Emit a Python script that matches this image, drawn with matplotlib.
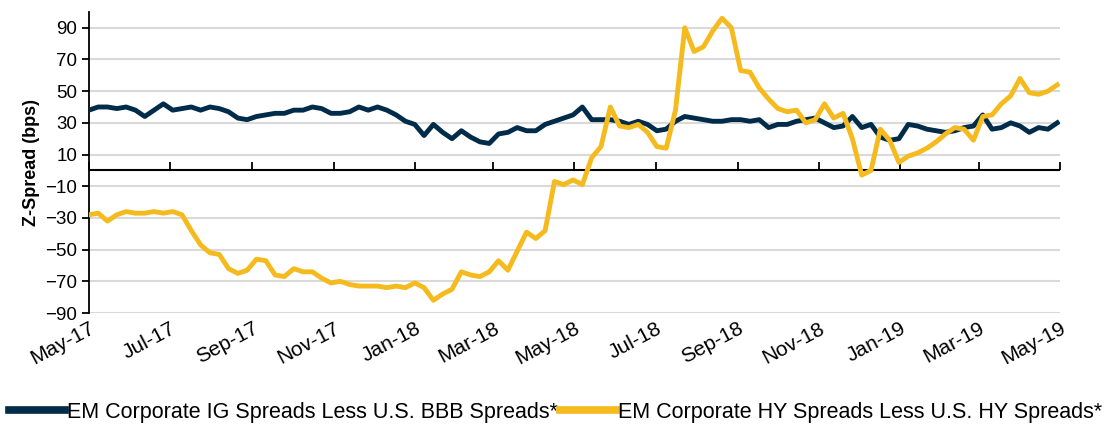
import pandas as pd
import matplotlib.pyplot as plt
import matplotlib as mpl
import matplotlib.dates as mdates

mpl.rcParams['font.family'] = ['Liberation Sans', 'DejaVu Sans']
mpl.rcParams['font.size'] = 12

# weekly readings, May-17 to May-19
start_date = '2017-05-01'
ig_spread = [38, 40, 40, 39, 40, 38, 34, 38, 42, 38,
             39, 40, 38, 40, 39, 37, 33, 32, 34, 35,
             36, 36, 38, 38, 40, 39, 36, 36, 37, 40,
             38, 40, 38, 35, 31, 29, 22, 29, 24, 20,
             25, 21, 18, 17, 23, 24, 27, 25, 25, 29,
             31, 33, 35, 40, 32, 32, 32, 31, 29, 31,
             29, 25, 26, 31, 34, 33, 32, 31, 31, 32,
             32, 31, 32, 27, 29, 29, 31, 32, 33, 30,
             27, 28, 34, 27, 29, 21, 19, 20, 29, 28,
             26, 25, 24, 25, 27, 28, 35, 26, 27, 30,
             28, 24, 27, 26, 30]
hy_spread = [-28, -27, -32, -28, -26, -27, -27, -26, -27, -26,
             -28, -38, -47, -52, -53, -62, -65, -63, -56, -57,
             -66, -67, -62, -64, -64, -68, -71, -70, -72, -73,
             -73, -73, -74, -73, -74, -71, -74, -82, -78, -75,
             -64, -66, -67, -64, -57, -63, -51, -39, -43, -38,
             -7, -9, -6, -9, 8, 15, 40, 28, 27, 29,
             24, 15, 14, 38, 90, 75, 78, 88, 96, 90,
             63, 62, 52, 45, 39, 37, 38, 30, 32, 42,
             33, 36, 20, -3, 0, 26, 19, 5, 9, 11,
             14, 18, 23, 27, 26, 19, 34, 35, 42, 47,
             58, 49, 48, 50, 54]
labels = ['EM Corporate IG Spreads Less U.S. BBB Spreads*',
          'EM Corporate HY Spreads Less U.S. HY Spreads*']
colors = ['#002B49', '#F4BA1E']

dates = pd.date_range(start_date, periods=len(ig_spread), freq='7D')

fig = plt.figure(figsize=(11.11, 4.25), dpi=100)
ax = fig.add_axes([0.080, 0.2635, 0.874, 0.7085])

ax.plot(dates, ig_spread, color=colors[0], lw=3.5, label=labels[0], zorder=3)
ax.plot(dates, hy_spread, color=colors[1], lw=3.5, label=labels[1], zorder=4)

ymin, ymax = -90, 100
ax.set_ylim(ymin, ymax)
ax.set_yticks(range(-90, 91, 20))
ax.yaxis.grid(True, color='#D9D9D9', lw=1.5)
ax.set_axisbelow(True)
ax.set_xlim(pd.Timestamp('2017-05-01'), pd.Timestamp('2019-05-01'))

xt = pd.date_range('2017-05-01', '2019-05-01', freq='2MS')
ax.set_xticks(xt)
ax.xaxis.set_major_formatter(mdates.DateFormatter('%b-%y'))
ax.tick_params(axis='x', length=0, pad=4, labelsize=15)
for lab in ax.get_xticklabels():
    lab.set_rotation(28)
    lab.set_ha('right')
    lab.set_rotation_mode('anchor')
ax.tick_params(axis='y', direction='out', length=5, width=1.3, labelsize=13.5)

for s in ['top', 'right', 'bottom']:
    ax.spines[s].set_visible(False)
ax.spines['left'].set_linewidth(1.3)

# zero line with hanging ticks
ax.axhline(0, color='black', lw=1.5, zorder=2)
zero_frac = (0 - ymin) / (ymax - ymin)
sec = ax.secondary_xaxis(zero_frac)
sec.set_xticks(xt)
sec.tick_params(axis='x', direction='in', length=6, width=1.3, labelbottom=False, labeltop=False)
sec.spines['bottom'].set_visible(False)
sec.spines['top'].set_visible(False)

ax.set_ylabel('Z-Spread (bps)', fontsize=13, fontweight='bold', labelpad=4)

leg = fig.legend(loc='lower center', bbox_to_anchor=(0.5, -0.04), ncol=2, frameon=False,
                 fontsize=15.5, handlelength=2.6, handletextpad=0.1, columnspacing=0.1)
for line in leg.get_lines():
    line.set_linewidth(5.5)

fig.savefig('out.png', dpi=100)
